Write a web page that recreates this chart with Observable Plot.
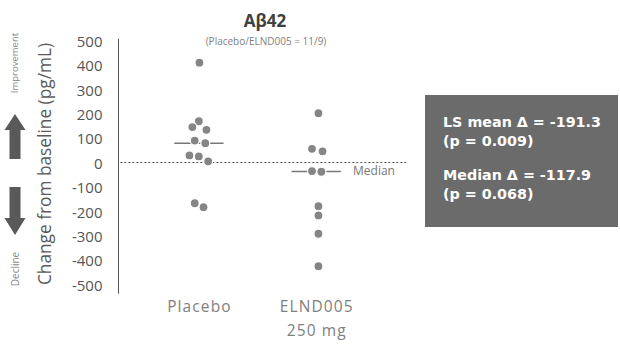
<!DOCTYPE html>
<html><head><meta charset="utf-8">
<script src="https://cdn.jsdelivr.net/npm/d3@7"></script>
<script src="https://cdn.jsdelivr.net/npm/@observablehq/plot@0.6"></script>
<style>
body{margin:0;background:#fff;}
#wrap{position:relative;width:620px;height:345px;font-family:"Open Sans",sans-serif;}
#wrap svg{position:absolute;left:0;top:0;}
</style></head><body><div id="wrap"></div>
<script>
const groups = ["Placebo", "ELND005\n250 mg"];
const placeboValues = [409, 169, 145, 134, 90, 79, 29, 25, 5, -167, -183];
const placeboSpread = [0, -0.005, -0.06, 0.06, -0.04, 0.05, -0.085, -0.005, 0.075, -0.04, 0.035];
const elndValues = [202, 56, 46, -35, -38, -179, -217, -292, -425];
const elndSpread = [0.015, -0.04, 0.05, -0.04, 0.04, 0.015, 0.015, 0.015, 0.015];
const medians = [79, -37];
const yTicks = [500, 400, 300, 200, 100, 0, -100, -200, -300, -400, -500];
const statLines = ["LS mean \u0394 = -191.3", "(p = 0.009)", "Median \u0394 = -117.9", "(p = 0.068)"];

const data = [
  ...placeboValues.map((v, i) => ({g: 1, v, s: placeboSpread[i]})),
  ...elndValues.map((v, i) => ({g: 2, v, s: elndSpread[i]}))
];
const medianRows = medians.map((m, i) => ({g: i + 1, m}));

const chart = Plot.plot({
  width: 620, height: 345,
  marginLeft: 118, marginRight: 210, marginTop: 40, marginBottom: 61,
  style: {fontFamily: '"Open Sans", sans-serif', background: "transparent"},
  x: {domain: [0.31, 2.8]},
  y: {domain: [-500, 500]},
  marks: [
    Plot.ruleX([0.31], {y1: 505, y2: -540, stroke: "#555", strokeWidth: 1}),
    Plot.ruleY([0], {x1: () => 0.33, x2: () => 2.78, stroke: "#555", strokeWidth: 1, strokeDasharray: "2,2"}),
    Plot.ruleY(medianRows, {y: "m", x1: d => d.g - 0.21, x2: d => d.g + 0.21, stroke: "#777", strokeWidth: 1.5}),
    Plot.dot(data, {x: d => d.g + d.s, y: "v", r: 4.5, fill: "#858585", stroke: "white", strokeWidth: 1.2}),
    Plot.text(["Median"], {x: () => 2.31, y: () => medians[1], text: d => d, textAnchor: "start", fontSize: 12, fill: "#777"}),
    Plot.axisY({ticks: yTicks, tickSize: 0, tickPadding: 16, tickFormat: d => String(d), fontSize: 15, color: "#555", dy: 1.5, label: null}),
    Plot.axisX({ticks: [1, 2], tickFormat: i => groups[i - 1], tickSize: 0, tickPadding: 10, fontSize: 15.5, lineHeight: 1.55, color: "#808080", label: null})
  ]
});
d3.select(chart).selectAll('[aria-label="x-axis tick label"] text').attr("letter-spacing", 1.1);
document.getElementById("wrap").appendChild(chart);

const ov = d3.select("#wrap").append("svg").attr("width", 620).attr("height", 345)
  .style("pointer-events", "none").attr("font-family", '"Open Sans", sans-serif');
ov.append("text").attr("x", 265).attr("y", 27).attr("text-anchor", "middle")
  .attr("font-weight", "bold").attr("font-size", 17).attr("fill", "#404040").text("A\u03b242");
ov.append("text").attr("x", 266).attr("y", 45).attr("text-anchor", "middle")
  .attr("font-size", 10).attr("fill", "#808080").text("(Placebo/ELND005 = 11/9)");
ov.append("text").attr("transform", "translate(51,164) rotate(-90)").attr("text-anchor", "middle")
  .attr("font-size", 17.3).attr("fill", "#5a5a5a").text("Change from baseline (pg/mL)");
ov.append("text").attr("transform", "translate(18,63) rotate(-90)").attr("text-anchor", "middle")
  .attr("font-size", 9.5).attr("fill", "#8a8a8a").text("Improvement");
ov.append("text").attr("transform", "translate(19,269) rotate(-90)").attr("text-anchor", "middle")
  .attr("font-size", 10).attr("fill", "#8a8a8a").text("Decline");
ov.append("path").attr("d", "M15,114 L25.5,130 L20.5,130 L20.5,159 L9.5,159 L9.5,130 L4.5,130 Z").attr("fill", "#595959");
ov.append("path").attr("d", "M15,235 L25.5,218 L20.5,218 L20.5,187 L9.5,187 L9.5,218 L4.5,218 Z").attr("fill", "#595959");
ov.append("rect").attr("x", 425).attr("y", 95).attr("width", 193).attr("height", 132).attr("fill", "#6b6b6b");
const baselines = [127, 146, 180, 199];
statLines.forEach((t, i) => {
  ov.append("text").attr("x", 443).attr("y", baselines[i]).attr("font-size", 14.3)
    .attr("font-family", '"DejaVu Sans", sans-serif')
    .attr("font-weight", "bold").attr("fill", "#fff").text(t);
});
</script></body></html>
